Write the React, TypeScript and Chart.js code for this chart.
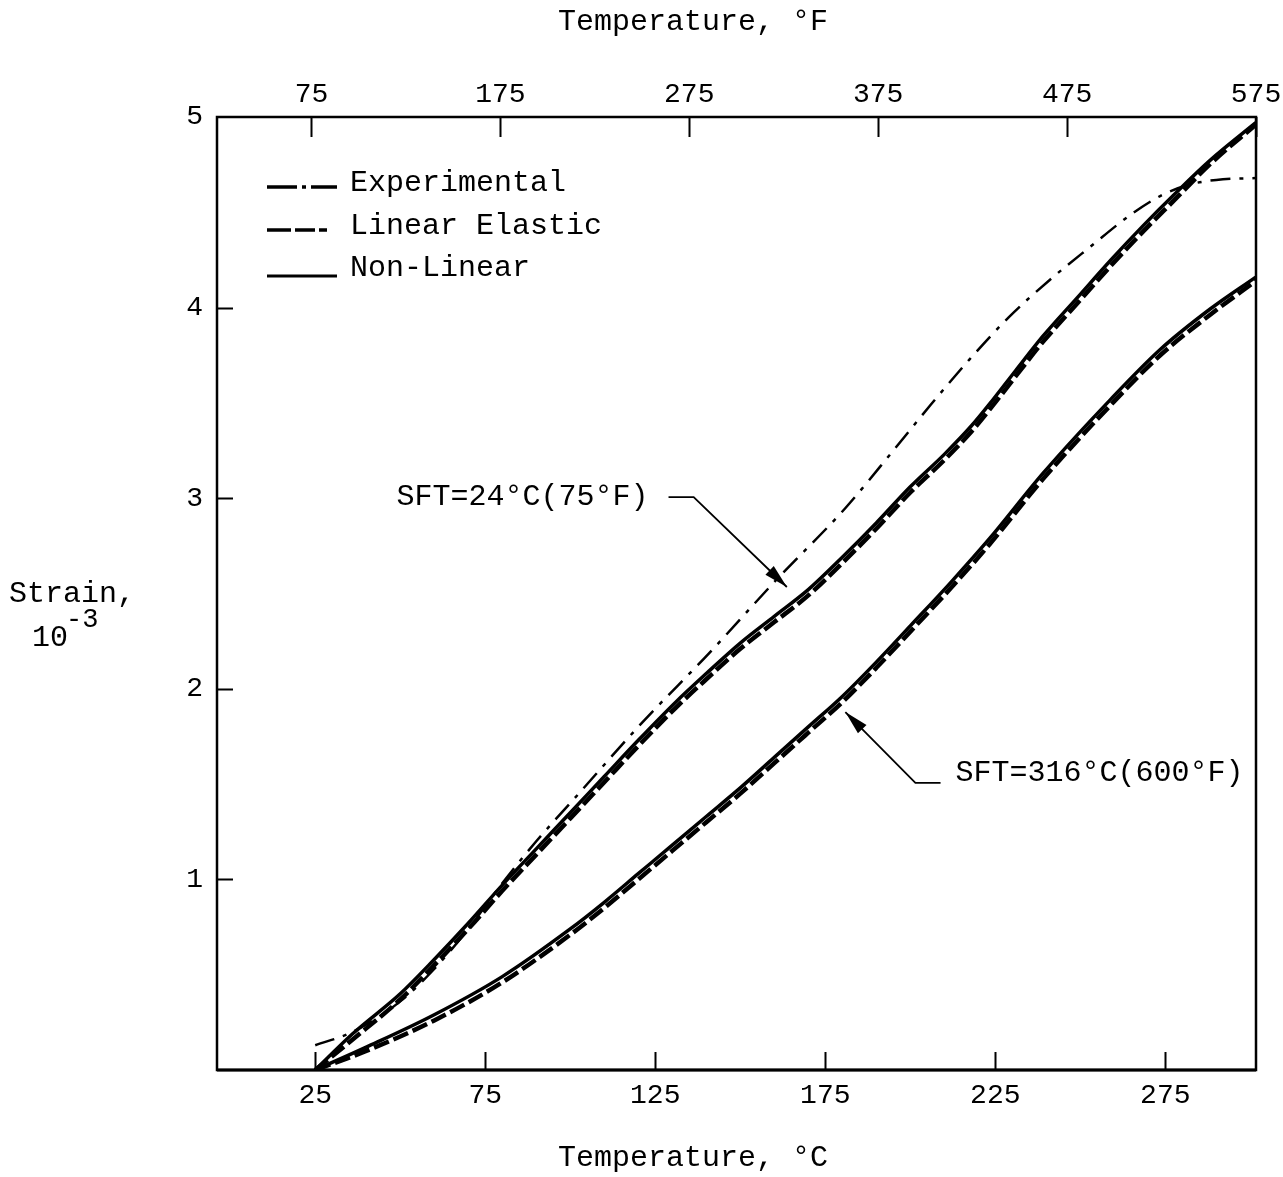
import React, { useEffect, useRef } from 'react';
import { Chart, registerables } from 'chart.js';

Chart.register(...registerables);

// ---- Axis ticks ----
const celsiusTicks = [25, 75, 125, 175, 225, 275];
const fahrenheitTicks = [75, 175, 275, 375, 475, 575];
const strainTicks = [0, 1, 2, 3, 4, 5];

// ---- Series (temperature °C, strain 10^-3) ----
// Experimental, SFT = 24°C
const tempExperimental = [25, 36, 50, 60, 70, 80, 90, 101, 121, 141, 160, 181, 195, 206, 217.5, 229, 241, 253, 265, 274, 282, 290, 301.6];
const strainExperimental = [0.13, 0.2, 0.36, 0.53, 0.74, 0.98, 1.2, 1.42, 1.82, 2.19, 2.56, 2.95, 3.25, 3.49, 3.73, 3.95, 4.145, 4.32, 4.49, 4.59, 4.645, 4.67, 4.68];

// Non-linear, SFT = 24°C
const tempNonLinear24 = [25, 36, 50, 60, 70, 80, 90, 100, 110, 120, 131, 140, 150, 160, 170, 180, 190, 200, 210, 218, 224, 231, 239, 249, 259, 268.5, 278, 288, 301.6];
const strainNonLinear24 = [0, 0.19, 0.4, 0.58, 0.77, 0.97, 1.16, 1.35, 1.54, 1.73, 1.93, 2.08, 2.24, 2.38, 2.52, 2.69, 2.87, 3.06, 3.23, 3.38, 3.51, 3.67, 3.85, 4.05, 4.25, 4.43, 4.6, 4.77, 4.97];

// Linear elastic, SFT = 24°C
const tempLinear24 = [25, 36, 50, 60, 70, 80, 90, 100, 110, 120, 131, 140, 150, 160, 170, 180, 190, 200, 210, 218, 224, 231, 239, 249, 259, 268.5, 278, 288, 301.6];
const strainLinear24 = [0, 0.16, 0.37, 0.55, 0.74, 0.94, 1.13, 1.32, 1.51, 1.7, 1.9, 2.05, 2.21, 2.35, 2.49, 2.66, 2.84, 3.03, 3.2, 3.35, 3.48, 3.64, 3.82, 4.02, 4.22, 4.4, 4.57, 4.75, 4.96];

// Non-linear, SFT = 316°C
const tempNonLinear316 = [25, 40, 60, 80, 100, 110, 120, 130, 140, 150, 160, 170, 180, 190, 200, 212, 223.4, 239, 259, 273.5, 288, 301.6];
const strainNonLinear316 = [0, 0.12, 0.29, 0.49, 0.74, 0.88, 1.03, 1.18, 1.33, 1.48, 1.64, 1.8, 1.96, 2.14, 2.33, 2.56, 2.79, 3.13, 3.52, 3.78, 3.99, 4.16];

// Linear elastic, SFT = 316°C
const tempLinear316 = [25, 40, 60, 80, 100, 110, 120, 130, 140, 150, 160, 170, 180, 190, 200, 212, 223.4, 239, 259, 273.5, 288, 301.6];
const strainLinear316 = [0, 0.1, 0.26, 0.46, 0.71, 0.85, 1.0, 1.15, 1.3, 1.45, 1.61, 1.77, 1.93, 2.11, 2.3, 2.53, 2.76, 3.1, 3.49, 3.75, 3.96, 4.14];

// ---- Annotations (data units: °C, strain) ----
const sft24Text = 'SFT=24°C(75°F)';
const sft24Anchor = [123.0, 3.006];
const sft24Leader = [[128.9, 3.006], [136.3, 3.006], [163.7, 2.534]];
const sft316Text = 'SFT=316°C(600°F)';
const sft316Anchor = [213.3, 1.558];
const sft316Leader = [[208.9, 1.506], [201.5, 1.506], [180.9, 1.878]];

const FONT = '"Liberation Mono", "Courier New", "DejaVu Sans Mono", monospace';
const fToC = (f: number) => ((f - 32) * 5) / 9;

function pts(xs: number[], ys: number[]) {
  return xs.map((x, i) => ({ x, y: ys[i] }));
}

const decorPlugin = {
  id: 'decor',
  afterDraw(chart: any) {
    const ctx = chart.ctx as CanvasRenderingContext2D;
    const ca = chart.chartArea;
    const xs = chart.scales.x;
    const xf = chart.scales.xF;
    const ys = chart.scales.y;
    ctx.save();
    ctx.strokeStyle = '#000';
    ctx.fillStyle = '#000';
    ctx.setLineDash([]);

    // frame
    ctx.lineWidth = 2.5;
    ctx.strokeRect(ca.left, ca.top, ca.right - ca.left, ca.bottom - ca.top);
    ctx.lineWidth = 3;
    ctx.beginPath();
    ctx.moveTo(ca.left, ca.bottom);
    ctx.lineTo(ca.right, ca.bottom);
    ctx.stroke();

    // inward tick marks
    ctx.lineWidth = 2;
    ctx.beginPath();
    celsiusTicks.forEach((v) => {
      const px = Math.round(xs.getPixelForValue(v)) + 0.5;
      ctx.moveTo(px, ca.bottom);
      ctx.lineTo(px, ca.bottom - 18);
    });
    fahrenheitTicks.forEach((v) => {
      const px = Math.round(xf.getPixelForValue(v)) + 0.5;
      ctx.moveTo(px, ca.top);
      ctx.lineTo(px, ca.top + 20);
    });
    strainTicks.slice(1, 5).forEach((v) => {
      const py = Math.round(ys.getPixelForValue(v)) + 0.5;
      ctx.moveTo(ca.left, py);
      ctx.lineTo(ca.left + 16, py);
    });
    ctx.stroke();

    // axis titles
    ctx.font = `30px ${FONT}`;
    ctx.textAlign = 'center';
    ctx.textBaseline = 'middle';
    ctx.fillText('Temperature, °F', 693, 22);
    ctx.fillText('Temperature, °C', 693, 1158);
    ctx.textAlign = 'left';
    ctx.fillText('Strain,', 9, 594);
    ctx.fillText('10', 32, 638);
    ctx.font = `27px ${FONT}`;
    ctx.fillText('-3', 66, 620);

    // legend
    const lx0 = ca.left + 50;
    const lx1 = ca.left + 120;
    const tx = ca.left + 133;
    ctx.font = `30px ${FONT}`;
    ctx.textAlign = 'left';
    ctx.textBaseline = 'middle';
    const rows = [
      { label: 'Experimental', ty: ca.top + 66, ly: ca.top + 70, dash: [30, 5, 4, 5], w: 3.5 },
      { label: 'Linear Elastic', ty: ca.top + 109, ly: ca.top + 113, dash: [24, 4, 20, 4, 8, 40], w: 3.5 },
      { label: 'Non-Linear', ty: ca.top + 151, ly: ca.top + 159, dash: [], w: 3 },
    ];
    rows.forEach((r) => {
      ctx.lineWidth = r.w;
      ctx.setLineDash(r.dash);
      ctx.beginPath();
      ctx.moveTo(lx0, r.ly);
      ctx.lineTo(lx1, r.ly);
      ctx.stroke();
      ctx.setLineDash([]);
      ctx.fillText(r.label, tx, r.ty);
    });

    // annotations
    const P = (p: number[]) => [xs.getPixelForValue(p[0]), ys.getPixelForValue(p[1])];
    const drawLeader = (path: number[][]) => {
      const pp = path.map(P);
      ctx.lineWidth = 1.8;
      ctx.setLineDash([]);
      ctx.beginPath();
      ctx.moveTo(pp[0][0], pp[0][1]);
      for (let i = 1; i < pp.length; i++) ctx.lineTo(pp[i][0], pp[i][1]);
      ctx.stroke();
      const a = pp[pp.length - 2];
      const b = pp[pp.length - 1];
      const ang = Math.atan2(b[1] - a[1], b[0] - a[0]);
      const L = 24;
      const W = 6;
      ctx.beginPath();
      ctx.moveTo(b[0], b[1]);
      ctx.lineTo(b[0] - L * Math.cos(ang) + W * Math.sin(ang), b[1] - L * Math.sin(ang) - W * Math.cos(ang));
      ctx.lineTo(b[0] - L * Math.cos(ang) - W * Math.sin(ang), b[1] - L * Math.sin(ang) + W * Math.cos(ang));
      ctx.closePath();
      ctx.fill();
    };
    ctx.font = `30px ${FONT}`;
    ctx.textBaseline = 'middle';
    const a24 = P(sft24Anchor);
    ctx.textAlign = 'right';
    ctx.fillText(sft24Text, a24[0], a24[1]);
    drawLeader(sft24Leader);
    const a316 = P(sft316Anchor);
    ctx.textAlign = 'left';
    ctx.fillText(sft316Text, a316[0], a316[1]);
    drawLeader(sft316Leader);

    ctx.restore();
  },
};

export default function App() {
  const ref = useRef<HTMLCanvasElement | null>(null);

  useEffect(() => {
    document.body.style.margin = '0';
    document.body.style.background = '#fff';
    const canvas = ref.current;
    if (!canvas) return;

    const tickFont = { family: FONT, size: 28 };
    const commonLine = {
      pointRadius: 0,
      fill: false,
      borderColor: '#000',
      cubicInterpolationMode: 'monotone' as const,
      xAxisID: 'x',
      yAxisID: 'y',
    };
    const noSidePad = (s: any) => {
      s.paddingLeft = 0;
      s.paddingRight = 0;
      s.paddingTop = 0;
      s.paddingBottom = 0;
    };

    const chart = new Chart(canvas, {
      type: 'line',
      data: {
        datasets: [
          {
            ...commonLine,
            label: 'Experimental',
            data: pts(tempExperimental, strainExperimental),
            borderWidth: 2.5,
            borderDash: [20, 9, 4, 9],
          },
          {
            ...commonLine,
            label: 'Linear Elastic (SFT=24°C)',
            data: pts(tempLinear24, strainLinear24),
            borderWidth: 4.5,
            borderDash: [16, 5],
          },
          {
            ...commonLine,
            label: 'Non-Linear (SFT=24°C)',
            data: pts(tempNonLinear24, strainNonLinear24),
            borderWidth: 3.5,
          },
          {
            ...commonLine,
            label: 'Linear Elastic (SFT=316°C)',
            data: pts(tempLinear316, strainLinear316),
            borderWidth: 4.5,
            borderDash: [16, 5],
          },
          {
            ...commonLine,
            label: 'Non-Linear (SFT=316°C)',
            data: pts(tempNonLinear316, strainNonLinear316),
            borderWidth: 3.5,
          },
        ],
      },
      options: {
        animation: false,
        responsive: false,
        maintainAspectRatio: false,
        devicePixelRatio: 1,
        layout: { padding: { left: 0, right: 27, top: 0, bottom: 0 } },
        plugins: {
          legend: { display: false },
          tooltip: { enabled: false },
          title: { display: false },
        },
        scales: {
          x: {
            type: 'linear',
            position: 'bottom',
            min: fToC(25),
            max: fToC(575),
            afterBuildTicks: (s: any) => {
              s.ticks = celsiusTicks.map((v) => ({ value: v }));
            },
            afterFit: (s: any) => {
              s.height = 107;
              noSidePad(s);
            },
            ticks: {
              callback: (v: any) => String(v),
              font: tickFont,
              color: '#000',
              padding: 9,
              maxRotation: 0,
              autoSkip: false,
            },
            grid: { display: false, drawTicks: false },
            border: { display: false },
          },
          xF: {
            type: 'linear',
            position: 'top',
            min: 25,
            max: 575,
            afterBuildTicks: (s: any) => {
              s.ticks = fahrenheitTicks.map((v) => ({ value: v }));
            },
            afterFit: (s: any) => {
              s.height = 117;
              noSidePad(s);
            },
            ticks: {
              callback: (v: any) => String(v),
              font: tickFont,
              color: '#000',
              padding: 6,
              maxRotation: 0,
              autoSkip: false,
            },
            grid: { display: false, drawTicks: false },
            border: { display: false },
          },
          y: {
            type: 'linear',
            position: 'left',
            min: 0,
            max: 5,
            afterBuildTicks: (s: any) => {
              s.ticks = strainTicks.map((v) => ({ value: v }));
            },
            afterFit: (s: any) => {
              s.width = 217;
              noSidePad(s);
            },
            ticks: {
              callback: (v: any) => (v === 0 ? '' : String(v)),
              font: tickFont,
              color: '#000',
              padding: 14,
              autoSkip: false,
            },
            grid: { display: false, drawTicks: false },
            border: { display: false },
          },
        },
      },
      plugins: [decorPlugin],
    });

    return () => chart.destroy();
  }, []);

  return (
    <div style={{ width: 1283, height: 1177, background: '#fff' }}>
      <canvas ref={ref} width={1283} height={1177} style={{ display: 'block', width: 1283, height: 1177 }} />
    </div>
  );
}
